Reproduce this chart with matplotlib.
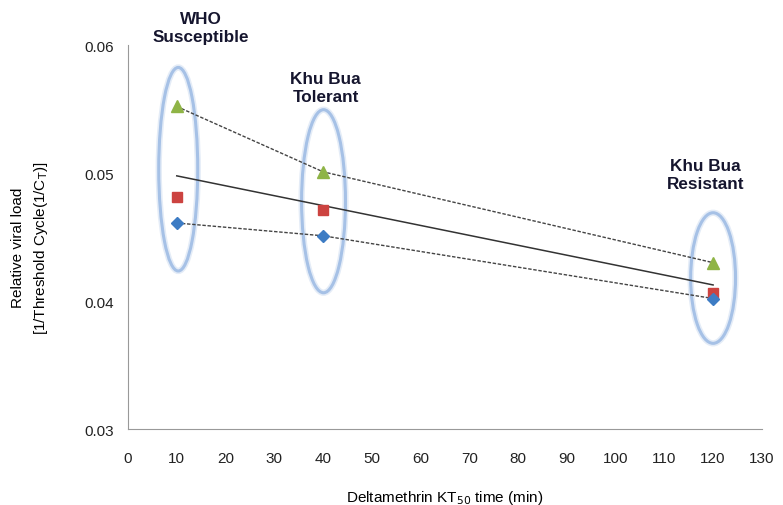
import numpy as np
import matplotlib.pyplot as plt
from matplotlib.patches import Ellipse

plt.rcParams['font.family'] = ['Liberation Sans', 'DejaVu Sans']

kt50 = [10, 40, 120]
tri_vals = [0.0552, 0.0501, 0.0430]
sq_vals = [0.0481, 0.0471, 0.0406]
dia_vals = [0.0461, 0.0451, 0.0402]
groups = ['WHO\nSusceptible', 'Khu Bua\nTolerant', 'Khu Bua\nResistant']

fig = plt.figure(figsize=(7.83, 5.06), dpi=100)
ax = fig.add_axes([0.1635, 0.150, 0.8095, 0.759])

# dashed lines joining triangles and diamonds
ax.plot(kt50, tri_vals, ls=(0, (2.5, 1.2)), color='#444444', lw=1, zorder=2)
ax.plot(kt50, dia_vals, ls=(0, (2.5, 1.2)), color='#444444', lw=1, zorder=2)

# overall linear trend
all_x = np.array(kt50 * 3)
all_y = np.array(tri_vals + sq_vals + dia_vals)
k, b = np.polyfit(all_x, all_y, 1)
xs = np.array([kt50[0], kt50[-1]])
ax.plot(xs, k * xs + b, color='#333333', lw=1.1, zorder=2)

ax.plot(kt50, tri_vals, ls='none', marker='^', ms=8, color='#8fb446', zorder=3)
ax.plot(kt50, sq_vals, ls='none', marker='s', ms=7, color='#cc4340', zorder=3)
ax.plot(kt50, dia_vals, ls='none', marker='D', ms=6.5, color='#3d7cc4', zorder=3)

# ellipses around each group
ells = [(10.3, 0.0503, 8.0, 0.0159), (40.1, 0.0478, 9.0, 0.0143), (120, 0.0418, 9.2, 0.0102)]
for cx, cy, w, h in ells:
    ax.add_patch(Ellipse((cx, cy), w, h, fill=False, ec='#e4ecf7', lw=4.5, zorder=1))
    ax.add_patch(Ellipse((cx, cy), w, h, fill=False, ec='#a6c1e6', lw=2.2, zorder=1))

label_pos = [(15, 0.0614), (40.5, 0.0567), (118.5, 0.0499)]
for txt, (lx, ly) in zip(groups, label_pos):
    ax.text(lx, ly, txt, ha='center', va='center', fontsize=12.3, fontweight='bold',
            color='#15152e', linespacing=1.25)

ax.set_xlim(0, 130)
ax.set_ylim(0.03, 0.06)
ax.set_xticks(range(0, 131, 10))
ax.set_yticks([0.03, 0.04, 0.05, 0.06])
ax.set_yticklabels(['0.03', '0.04', '0.05', '0.06'])
ax.tick_params(length=0, labelsize=11, colors='#222222')
ax.tick_params(axis='x', pad=16)
ax.tick_params(axis='y', pad=10)
for s in ['top', 'right']:
    ax.spines[s].set_visible(False)
for s in ['left', 'bottom']:
    ax.spines[s].set_color('#999999')

ax.set_xlabel('Deltamethrin KT$_{50}$ time (min)', fontsize=11, labelpad=16)
ax.set_ylabel('Relative viral load\n[1/Threshold Cycle(1/C$_{\\mathrm{T}}$)]', fontsize=11,
              linespacing=1.55)
ax.yaxis.set_label_coords(-0.123, 0.474)

fig.savefig('out.png', dpi=100)
